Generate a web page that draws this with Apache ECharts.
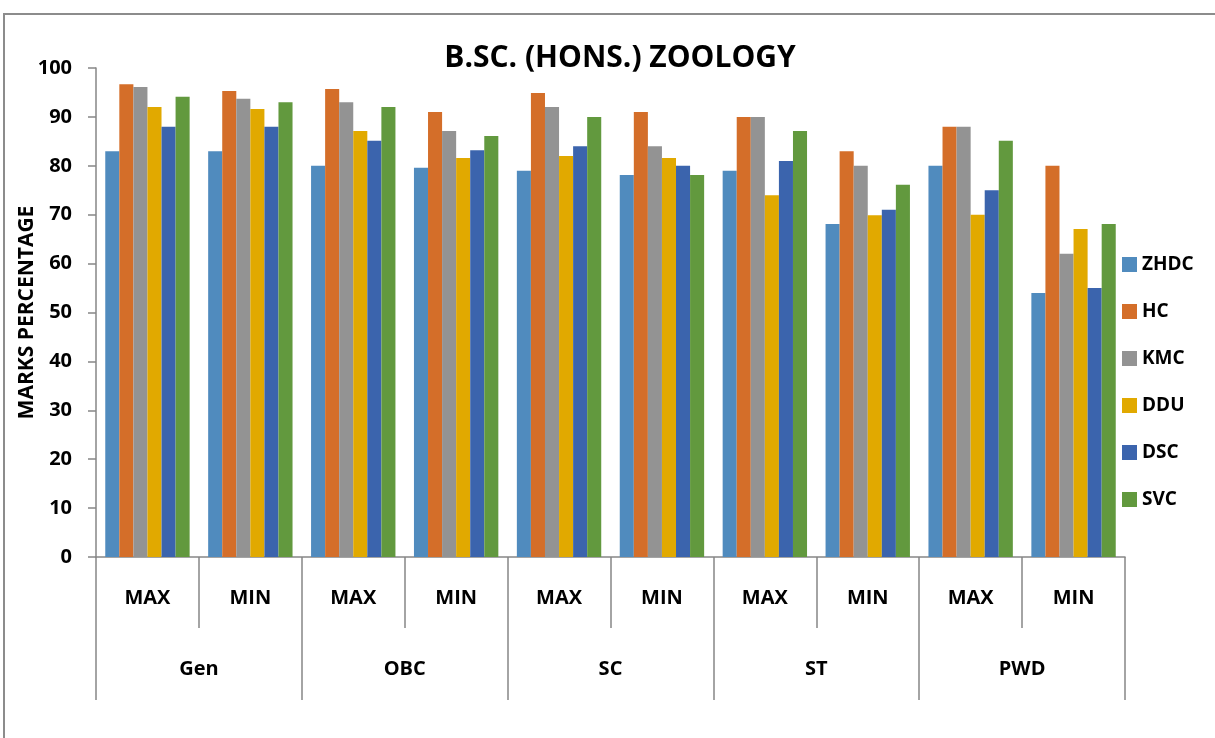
<!DOCTYPE html>
<html>
<head>
<meta charset="utf-8">
<script src="https://cdn.jsdelivr.net/npm/echarts@6/dist/echarts.min.js"></script>
<style>
  html, body { margin: 0; padding: 0; background: #fff; }
  #chart { width: 1215px; height: 738px; }
</style>
</head>
<body>
<div id="chart"></div>
<script>
// data
var levels = ['MAX', 'MIN', 'MAX', 'MIN', 'MAX', 'MIN', 'MAX', 'MIN', 'MAX', 'MIN'];
var groups = ['Gen', 'OBC', 'SC', 'ST', 'PWD'];
var colleges = ['ZHDC', 'HC', 'KMC', 'DDU', 'DSC', 'SVC'];

var zhdc = [83, 83, 80, 79.6, 79, 78.1, 79, 68.1, 80, 54];
var hc = [96.7, 95.3, 95.7, 91, 94.9, 91, 90, 83, 88, 80];
var kmc = [96.1, 93.7, 93, 87.1, 92, 84, 90, 80, 88, 62];
var ddu = [92, 91.6, 87.1, 81.6, 82, 81.6, 74, 69.9, 70, 67.1];
var dsc = [88, 88, 85.1, 83.2, 84, 80, 81, 71, 75, 55];
var svc = [94.1, 93, 92, 86.1, 90, 78.1, 87.1, 76.1, 85.1, 68.1];

var chart = echarts.init(document.getElementById('chart'));

const colors = ['#508BBE', '#D46E29', '#939393', '#E1A900', '#3B64AD', '#62993E'];
var font = '"Open Sans", "Liberation Sans", sans-serif';
var allData = [zhdc, hc, kmc, ddu, dsc, svc];

var series = colleges.map(function (name, i) {
  return {
    name: name,
    type: 'bar',
    barGap: '0%',
    barCategoryGap: '18%',
    data: allData[i]
  };
});

var option = {
  color: colors,
  textStyle: { fontFamily: font },
  title: {
    text: 'B.SC. (HONS.) ZOOLOGY',
    left: 615,
    top: 38,
    textAlign: 'center',
    textStyle: { fontSize: 30, fontWeight: 'bold', color: '#000', fontFamily: font }
  },
  legend: {
    orient: 'vertical',
    left: 1117,
    top: 248,
    itemWidth: 15,
    itemHeight: 15,
    itemGap: 24,
    icon: 'rect',
    textStyle: { fontSize: 19, lineHeight: 23, fontWeight: 'bold', color: '#000', fontFamily: font }
  },
  grid: {
    left: 96,
    right: 90,
    top: 68,
    bottom: 181,
    outerBoundsMode: 'none'
  },
  graphic: [
    {
      type: 'rect',
      shape: { x: 4, y: 14, width: 1240, height: 740 },
      style: { fill: 'none', stroke: '#8c8c8c', lineWidth: 2 }
    }
  ],
  xAxis: [
    {
      type: 'category',
      data: levels,
      position: 'bottom',
      axisLine: { lineStyle: { color: '#868686', width: 1.5 } },
      axisTick: { show: true, interval: 0, length: 71, lineStyle: { color: '#868686', width: 1.5 } },
      axisLabel: { interval: 0, margin: 31, fontSize: 20, fontWeight: 'bold', color: '#000', fontFamily: font }
    },
    {
      type: 'category',
      data: groups,
      position: 'bottom',
      axisLine: { show: false },
      axisTick: { show: true, interval: 0, length: 143, lineStyle: { color: '#868686', width: 1.5 } },
      axisLabel: { interval: 0, margin: 102, fontSize: 20, fontWeight: 'bold', color: '#000', fontFamily: font }
    }
  ],
  yAxis: [
    {
      type: 'value',
      min: 0,
      max: 100,
      interval: 10,
      name: 'MARKS PERCENTAGE',
      nameLocation: 'middle',
      nameGap: 58,
      nameRotate: 90,
      nameMoveOverlap: false,
      nameTextStyle: { fontSize: 21, fontWeight: 'bold', color: '#000', fontFamily: font },
      axisLine: { show: true, lineStyle: { color: '#868686', width: 1.5 } },
      axisTick: { show: true, length: 8, lineStyle: { color: '#868686', width: 1.5 } },
      splitLine: { show: false },
      axisLabel: { margin: 24, fontSize: 20, fontWeight: 'bold', color: '#000', fontFamily: font }
    }
  ],
  series: series
};

chart.setOption(option);
</script>
</body>
</html>
